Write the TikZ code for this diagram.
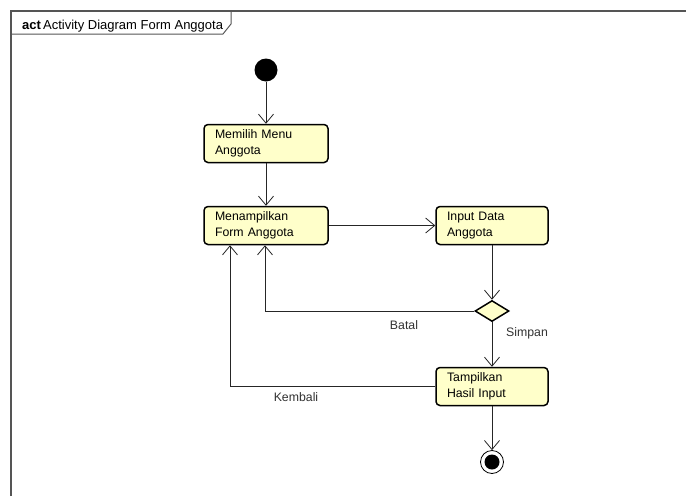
\documentclass[tikz,border=0pt]{standalone}
\usepackage{fontspec}
\setmainfont{Liberation Sans}
\usetikzlibrary{arrows.meta,shapes.geometric}
\definecolor{actfill}{HTML}{FFFFCA}
\definecolor{framegray}{HTML}{555555}
\begin{document}
\begin{tikzpicture}[x=1pt,y=-1pt,
  font=\fontsize{12.3}{15.5}\selectfont,
  action/.style={draw=black,line width=1.5pt,fill=actfill,rounded corners=4pt,
    minimum height=38pt,text width=#1,align=left,inner xsep=11pt,inner ysep=2pt},
  action/.default=102pt,
  arr/.style={draw=black!85,line width=0.8pt,-{Straight Barb[length=9pt,width=15pt,line width=0.8pt]}},
  guard/.style={inner sep=0pt,text=black!80},
  decision/.style={diamond,draw=black,line width=1.5pt,fill=actfill,minimum width=34pt,minimum height=21pt,inner sep=0pt}]
  \useasboundingbox (0,0) rectangle (686,496);
  \fill[white] (0,0) rectangle (686,496);

  % frame with its name tab
  \draw[framegray,line width=1.6pt] (11,496) -- (11,11) -- (686,11);
  \draw[framegray,line width=1pt] (11,34) -- (223,34) -- (231,24) -- (231,11);
  \node[anchor=base west,inner sep=0pt,font=\fontsize{13}{15}\selectfont] (title) at (22,29)
    {\textbf{act}\,Activity Diagram Form Anggota};

  % activity nodes
  \node[circle,fill=black,minimum size=23pt,inner sep=0pt] (init) at (266,70) {};
  \node[action] (memilih) at (266,143.5) {Memilih Menu\\Anggota};
  \node[action] (tampil) at (266,225.5) {Menampilkan\\Form Anggota};
  \node[action=90pt] (input) at (492,225.5) {Input Data\\Anggota};
  \node[decision] (dec) at (492,311) {};
  \node[action=90pt] (hasil) at (492,386.5) {Tampilkan\\Hasil Input};
  \node[circle,draw=black,line width=0.8pt,fill=white,minimum size=23pt,inner sep=0pt] (final) at (492,462) {};
  \node[circle,fill=black,minimum size=15pt,inner sep=0pt] (finaldot) at (final) {};

  % control flows
  \draw[arr] (init) -- (memilih);
  \draw[arr] (memilih) -- (tampil);
  \draw[arr] (tampil) -- (input);
  \draw[arr] (input) -- (dec);
  \draw[arr] (dec) -- (hasil);
  \draw[arr] (dec.west) -| ([xshift=-1pt]tampil.south);
  \draw[arr] (hasil.west) -| ([xshift=-36pt]tampil.south);
  \draw[arr] (hasil) -- (final);

  % guards
  \node[guard] (batal) at (404,325) {Batal};
  \node[guard] (simpan) at (527,333) {Simpan};
  \node[guard] (kembali) at (296,397) {Kembali};
\end{tikzpicture}
\end{document}
